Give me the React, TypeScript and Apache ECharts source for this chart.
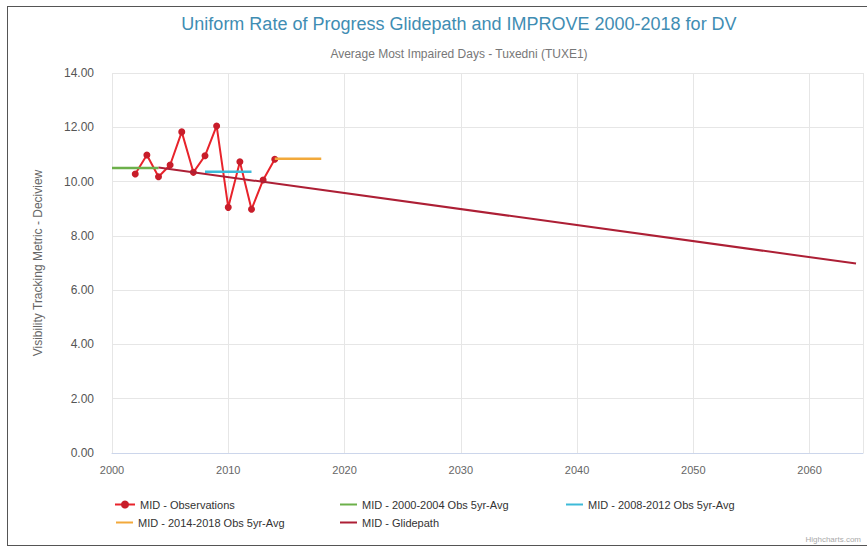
import React, { useEffect, useRef } from "react";
import * as echarts from "echarts";

const obsYears = [2002, 2003, 2004, 2005, 2006, 2007, 2008, 2009, 2010, 2011, 2012, 2013, 2014];
const obsValues = [10.28, 10.98, 10.18, 10.61, 11.83, 10.34, 10.95, 12.05, 9.05, 10.73, 8.98, 10.06, 10.82];
const avg1Years = [2000, 2004];
const avg1Values = [10.5, 10.5];
const avg2Years = [2008, 2012];
const avg2Values = [10.36, 10.36];
const avg3Years = [2014, 2018];
const avg3Values = [10.84, 10.84];
const glideYears = [2004, 2064];
const glideValues = [10.52, 6.98];

const seriesNames = [
  "MID - Observations",
  "MID - 2000-2004 Obs 5yr-Avg",
  "MID - 2008-2012 Obs 5yr-Avg",
  "MID - 2014-2018 Obs 5yr-Avg",
  "MID - Glidepath",
];
const colors = ["#e8232b", "#6cb04a", "#3dbad8", "#f2a93b", "#ad1f35"];

const zip = (xs: number[], ys: number[]) => xs.map((x, i) => [x, ys[i]]);

export default function App() {
  const ref = useRef<HTMLDivElement>(null);
  useEffect(() => {
    if (!ref.current) return;
    const chart = echarts.init(ref.current, null, { renderer: "svg" });
    const font = "'Liberation Sans', Arial, sans-serif";
    const legendPos = [
      { left: 114, top: 499 },
      { left: 338, top: 499 },
      { left: 564, top: 499 },
      { left: 114, top: 517 },
      { left: 338, top: 517 },
    ];
    chart.setOption({
      animation: false,
      backgroundColor: "#ffffff",
      textStyle: { fontFamily: font },
      title: [
        {
          text: "Uniform Rate of Progress Glidepath and IMPROVE 2000-2018 for DV",
          left: 454,
          top: 10,
          textAlign: "center",
          textStyle: { color: "#3f8db3", fontSize: 18, fontWeight: "normal", fontFamily: font },
        },
        {
          text: "Average Most Impaired Days - Tuxedni (TUXE1)",
          left: 454,
          top: 43,
          textAlign: "center",
          textStyle: { color: "#777777", fontSize: 12, fontWeight: "normal", fontFamily: font },
        },
      ],
      legend: seriesNames.map((n, i) =>
        i === 0
          ? {
              data: [n],
              left: legendPos[i].left,
              top: legendPos[i].top,
              itemWidth: 20,
              itemHeight: 10,
              padding: 0,
              textStyle: { color: "#333333", fontSize: 11, fontFamily: font },
            }
          : {
              data: [{ name: n, icon: "rect" }],
              left: legendPos[i].left + 2,
              top: legendPos[i].top,
              itemWidth: 17,
              itemHeight: 2,
              padding: 0,
              textStyle: { color: "#333333", fontSize: 11, fontFamily: font },
            }
      ),
      grid: { left: 112, right: 4, top: 73, height: 380 },
      xAxis: {
        type: "value",
        min: 2000,
        max: 2064.6,
        interval: 10,
        axisLine: { show: true, lineStyle: { color: "#ccd6eb" } },
        axisTick: { show: false },
        splitLine: { show: true, lineStyle: { color: "#e6e6e6" } },
        axisLabel: {
          color: "#666666",
          fontSize: 11,
          margin: 11,
          showMaxLabel: false,
          formatter: (v: number) => String(v),
        },
      },
      yAxis: {
        type: "value",
        min: 0,
        max: 14,
        interval: 2,
        name: "Visibility Tracking Metric - Deciview",
        nameLocation: "middle",
        nameGap: 68,
        nameTextStyle: { color: "#666666", fontSize: 12, fontFamily: font },
        axisLine: { show: false },
        axisTick: { show: false },
        splitLine: { show: true, lineStyle: { color: "#e6e6e6" } },
        axisLabel: {
          color: "#555555",
          fontSize: 12,
          margin: 18,
          formatter: (v: number) => v.toFixed(2),
        },
      },
      series: [
        {
          name: seriesNames[0],
          type: "line",
          data: zip(obsYears, obsValues),
          color: colors[0],
          lineStyle: { width: 2, color: colors[0] },
          symbol: "circle",
          symbolSize: 7,
          itemStyle: { color: "#c81d2a" },
          z: 2,
        },
        {
          name: seriesNames[1],
          type: "line",
          data: zip(avg1Years, avg1Values),
          color: colors[1],
          lineStyle: { width: 2.5, color: colors[1] },
          symbol: "none",
          z: 3,
        },
        {
          name: seriesNames[2],
          type: "line",
          data: zip(avg2Years, avg2Values),
          color: colors[2],
          lineStyle: { width: 2.5, color: colors[2] },
          symbol: "none",
          z: 3,
        },
        {
          name: seriesNames[3],
          type: "line",
          data: zip(avg3Years, avg3Values),
          color: colors[3],
          lineStyle: { width: 2.5, color: colors[3] },
          symbol: "none",
          z: 3,
        },
        {
          name: seriesNames[4],
          type: "line",
          data: zip(glideYears, glideValues),
          color: colors[4],
          lineStyle: { width: 2, color: colors[4] },
          symbol: "none",
          z: 4,
        },
      ],
      graphic: [
        {
          type: "text",
          right: 6,
          top: 535,
          style: { text: "Highcharts.com", fill: "#aaaaaa", fontSize: 8, fontFamily: font },
        },
      ],
    });
    return () => chart.dispose();
  }, []);
  return (
    <>
      <div ref={ref} style={{ position: "absolute", left: 0, top: 0, width: 867, height: 549 }} />
      <div
        style={{
          position: "absolute",
          left: 7,
          top: 6,
          width: 870,
          height: 538,
          border: "1px solid #555",
          pointerEvents: "none",
        }}
      />
    </>
  );
}
